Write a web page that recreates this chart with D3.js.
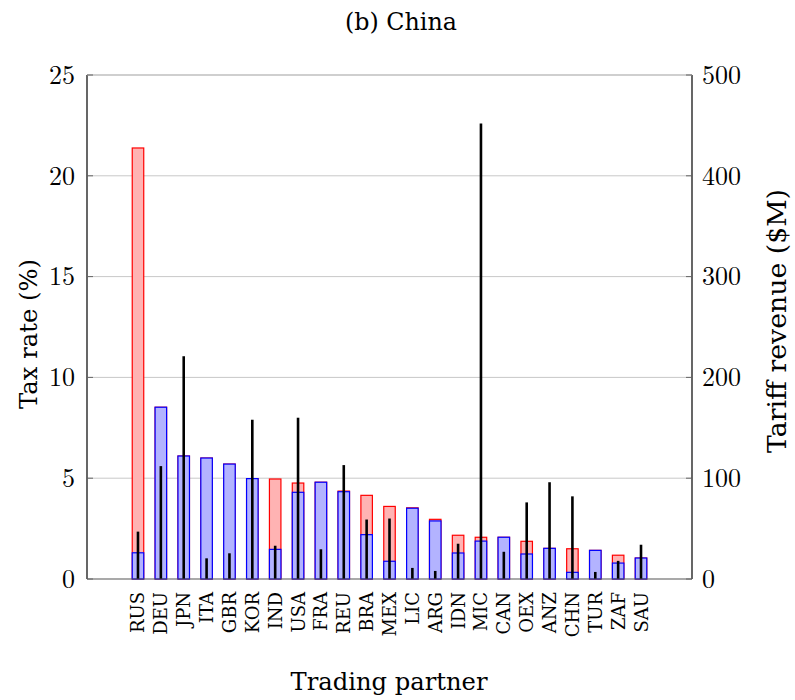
<!DOCTYPE html>
<html><head><meta charset="utf-8">
<script src="https://cdn.jsdelivr.net/npm/d3@7"></script>
<style>body{margin:0;background:#fff}</style>
</head><body>
<svg id="c" width="795" height="700"></svg>
<script>
const partners = ["RUS","DEU","JPN","ITA","GBR","KOR","IND","USA","FRA","REU","BRA","MEX","LIC","ARG","IDN","MIC","CAN","OEX","ANZ","CHN","TUR","ZAF","SAU"];
const rateRed  = [21.38,8.52,6.10,6.00,5.70,4.98,4.96,4.76,4.80,4.36,4.15,3.60,3.53,2.96,2.17,2.07,2.07,1.87,1.52,1.50,1.42,1.18,1.04];
const rateBlue = [1.30,8.52,6.10,6.00,5.70,4.98,1.47,4.30,4.80,4.33,2.20,0.88,3.51,2.88,1.29,1.88,2.07,1.24,1.52,0.33,1.42,0.79,1.04];
const revenue  = [47,112,221,20.5,25.5,158,33,160,29.5,113,59,60,11,8,35,452,27,76,96,82,7,18,34];
const leftTicks = [0,5,10,15,20,25];
const rightTicks = [0,100,200,300,400,500];

const svg = d3.select("#c");
const L = 87, R = 692, T = 75, B = 579;
const x = d3.scaleLinear().domain([-2.23, partners.length - 1 + 2.23]).range([L, R]);
const yL = d3.scaleLinear().domain([0, 25]).range([B, T]);
const yR = d3.scaleLinear().domain([0, 500]).range([B, T]);
const bw = 11.5;
const numFont = "'Latin Modern Roman','CMU Serif','Liberation Serif',serif";
const txtFont = "'DejaVu Serif',serif";

function fit(sel, target) {
  const w = sel.node().getComputedTextLength();
  const fs = parseFloat(sel.attr("font-size"));
  sel.attr("font-size", fs * target / w);
}

// gridlines
svg.append("g").selectAll("line").data(leftTicks.filter(d => d > 0)).join("line")
  .attr("x1", L).attr("x2", R).attr("y1", d => yL(d)).attr("y2", d => yL(d))
  .attr("stroke", "#c8c8c8").attr("stroke-width", 1);

// red bars
svg.append("g").selectAll("rect").data(rateRed).join("rect")
  .attr("x", (d, i) => x(i) - bw / 2).attr("width", bw)
  .attr("y", d => yL(d)).attr("height", d => B - yL(d))
  .attr("fill", "#ffb3b3").attr("stroke", "#ff0000").attr("stroke-width", 1.2);
// blue bars
svg.append("g").selectAll("rect").data(rateBlue).join("rect")
  .attr("x", (d, i) => x(i) - bw / 2).attr("width", bw)
  .attr("y", d => yL(d)).attr("height", d => B - yL(d))
  .attr("fill", "#b3b3ff").attr("stroke", "#0000ff").attr("stroke-width", 1.2);
// revenue lines
svg.append("g").selectAll("line").data(revenue).join("line")
  .attr("x1", (d, i) => x(i)).attr("x2", (d, i) => x(i))
  .attr("y1", B).attr("y2", d => yR(d))
  .attr("stroke", "#000").attr("stroke-width", 2.6);

// axes frame
svg.append("line").attr("x1", L).attr("x2", L).attr("y1", T).attr("y2", B).attr("stroke", "#000").attr("stroke-width", 1.2);
svg.append("line").attr("x1", R).attr("x2", R).attr("y1", T).attr("y2", B).attr("stroke", "#000").attr("stroke-width", 1.2);
svg.append("line").attr("x1", L).attr("x2", R).attr("y1", B).attr("y2", B).attr("stroke", "#555").attr("stroke-width", 1.2);
svg.append("line").attr("x1", L).attr("x2", R).attr("y1", T).attr("y2", T).attr("stroke", "#bbb").attr("stroke-width", 1);

// left axis
const axL = d3.axisLeft(yL).tickValues(leftTicks).tickSize(0).tickPadding(12).tickFormat(d3.format("d"));
const gL = svg.append("g").attr("transform", `translate(${L},0)`).call(axL);
gL.select(".domain").remove();
gL.selectAll("text").attr("font-family", numFont).attr("font-size", 26).attr("fill", "#000");
// right axis
const axR = d3.axisRight(yR).tickValues(rightTicks).tickSize(0).tickPadding(10).tickFormat(d3.format("d"));
const gR = svg.append("g").attr("transform", `translate(${R},0)`).call(axR);
gR.select(".domain").remove();
gR.selectAll("text").attr("font-family", numFont).attr("font-size", 26).attr("fill", "#000");
// small tick marks
svg.append("g").selectAll("line").data(leftTicks).join("line")
  .attr("x1", L).attr("x2", L + 6).attr("y1", d => yL(d)).attr("y2", d => yL(d)).attr("stroke", "#666");
svg.append("g").selectAll("line").data(rightTicks).join("line")
  .attr("x1", R - 6).attr("x2", R).attr("y1", d => yR(d)).attr("y2", d => yR(d)).attr("stroke", "#666");

// x labels
svg.append("g").selectAll("text").data(partners).join("text")
  .attr("transform", (d, i) => `translate(${x(i) + 6.5},${B + 13}) rotate(-90)`)
  .attr("text-anchor", "end")
  .attr("font-family", txtFont).attr("font-size", 18)
  .text(d => d);

// titles
const t1 = svg.append("text").attr("x", 401).attr("y", 30).attr("text-anchor", "middle")
  .attr("font-family", txtFont).attr("font-size", 20).text("(b) China");
fit(t1, 112);
const t2 = svg.append("text").attr("x", 389).attr("y", 690).attr("text-anchor", "middle")
  .attr("font-family", txtFont).attr("font-size", 24).text("Trading partner");
fit(t2, 197);
const t3 = svg.append("text").attr("transform", "translate(37,334) rotate(-90)").attr("text-anchor", "middle")
  .attr("font-family", txtFont).attr("font-size", 24).text("Tax rate (%)");
fit(t3, 150);
const t4 = svg.append("text").attr("transform", "translate(786,321) rotate(-90)").attr("text-anchor", "middle")
  .attr("font-family", txtFont).attr("font-size", 24).text("Tariff revenue ($M)");
fit(t4, 264);
</script>
</body></html>
